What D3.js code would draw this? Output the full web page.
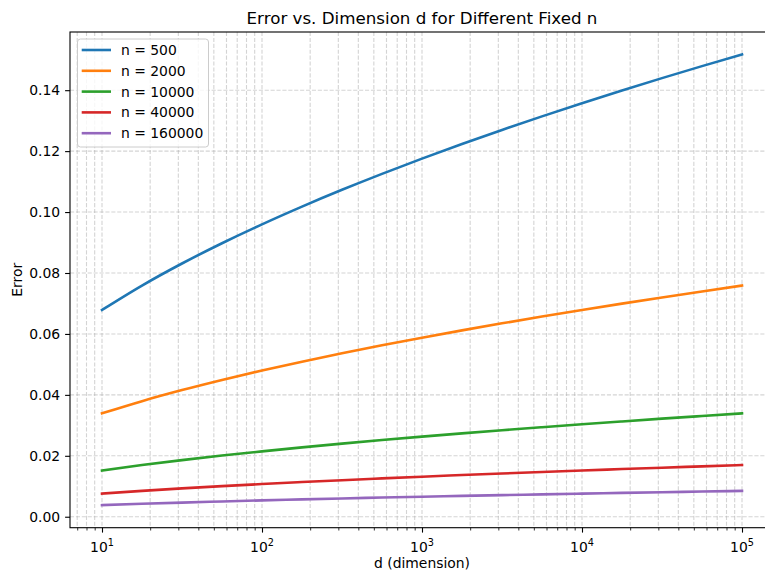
<!DOCTYPE html>
<html><head><meta charset="utf-8">
<script src="https://cdn.jsdelivr.net/npm/d3@7"></script>
<style>body{margin:0;background:#fff}svg{font-family:"DejaVu Sans",sans-serif}</style>
</head><body><svg id="c" width="765" height="576"></svg>
<script>
const dims = [1e1,1.778e1,3.162e1,5.623e1,1e2,1.778e2,3.162e2,5.623e2,1e3,1.778e3,3.162e3,5.623e3,1e4,1.778e4,3.162e4,5.623e4,1e5];
const seriesNames = ["n = 500","n = 2000","n = 10000","n = 40000","n = 160000"];
const colors = ["#1f77b4","#ff7f0e","#2ca02c","#d62728","#9467bd"];
const err500 = [0.06786,0.07587,0.08311,0.08977,0.09597,0.10179,0.10730,0.11254,0.11754,0.12234,0.12696,0.13141,0.13572,0.13990,0.14396,0.14790,0.15174];
const err2000 = [0.03393,0.03794,0.04156,0.04489,0.04799,0.05090,0.05365,0.05627,0.05877,0.06117,0.06348,0.06571,0.06786,0.06995,0.07198,0.07395,0.07587];
const err10000 = [0.015174,0.016965,0.018584,0.020073,0.021460,0.022761,0.023993,0.025165,0.026283,0.027356,0.028389,0.029384,0.030348,0.031283,0.032191,0.033072,0.033930];
const err40000 = [0.007587,0.008483,0.009292,0.010037,0.010730,0.011381,0.011997,0.012583,0.013142,0.013678,0.014195,0.014692,0.015174,0.015642,0.016096,0.016536,0.016965];
const err160000 = [0.003794,0.004242,0.004646,0.005019,0.005365,0.005691,0.005999,0.006292,0.006571,0.006839,0.007098,0.007346,0.007587,0.007821,0.008048,0.008268,0.008483];
const yTicks = [0.00,0.02,0.04,0.06,0.08,0.10,0.12,0.14];
const xMajor = [1,2,3,4,5];
const title = "Error vs. Dimension d for Different Fixed n";
const xLabel = "d (dimension)";
const yLabel = "Error";

const allSeries = [err500, err2000, err10000, err40000, err160000];
const svg = d3.select("#c");
const L = 70, R = 774, T = 32, B = 527.7;
const x = d3.scaleLog().domain([Math.pow(10,0.8), Math.pow(10,5.2)]).range([L, R]);
const y = d3.scaleLinear().domain([-0.0036, 0.1591]).range([B, T]);

const minor = [];
for (let e = 0; e <= 5; e++) for (let m = 2; m <= 9; m++) { const v = m*Math.pow(10,e); if (v > x.domain()[0] && v < x.domain()[1]) minor.push(v); }
const major = xMajor.map(e => Math.pow(10,e));

const grid = svg.append("g");
const gs = {stroke:"#b0b0b0", "stroke-opacity":0.55, "stroke-width":1.1, "stroke-dasharray":"4.1,1.8"};
function applyStyle(sel){ for (const k in gs) sel.attr(k, gs[k]); return sel; }
applyStyle(grid.selectAll(".mn").data(minor).enter().append("line")
  .attr("x1", d=>x(d)).attr("x2", d=>x(d)).attr("y1", T).attr("y2", B));
applyStyle(grid.selectAll(".mj").data(major).enter().append("line")
  .attr("x1", d=>x(d)).attr("x2", d=>x(d)).attr("y1", T).attr("y2", B));
applyStyle(grid.selectAll(".hy").data(yTicks).enter().append("line")
  .attr("x1", L).attr("x2", R).attr("y1", d=>y(d)).attr("y2", d=>y(d)));

const line = d3.line().x((d,i)=>x(dims[i])).y(d=>y(d)).curve(d3.curveMonotoneX);
allSeries.forEach((s, i) => {
  svg.append("path").datum(s).attr("d", line).attr("fill","none")
    .attr("stroke", colors[i]).attr("stroke-width", 2.6).attr("stroke-linecap","square");
});

svg.append("rect").attr("x", L).attr("y", T).attr("width", R-L).attr("height", B-T)
  .attr("fill","none").attr("stroke","#000").attr("stroke-width",1.1);

const xa = svg.append("g").attr("transform", `translate(0,${B})`);
xa.call(d3.axisBottom(x).tickValues(major).tickSize(4.9).tickFormat(""));
xa.select(".domain").remove();
xa.selectAll(".tick line").attr("stroke","#000").attr("stroke-width",1.1);
const xm = svg.append("g").attr("transform", `translate(0,${B})`);
xm.call(d3.axisBottom(x).tickValues(minor).tickSize(2.8).tickFormat(""));
xm.select(".domain").remove();
xm.selectAll(".tick line").attr("stroke","#000").attr("stroke-width",0.8);
xMajor.forEach(e => {
  const t = svg.append("text").attr("x", x(Math.pow(10,e))).attr("y", B+24.5)
    .attr("text-anchor","middle").attr("font-size","13.9px").attr("fill","#000");
  t.append("tspan").text("10");
  t.append("tspan").attr("dy","-6").attr("font-size","9.7px").text(e);
});

const ya = svg.append("g").attr("transform", `translate(${L},0)`);
ya.call(d3.axisLeft(y).tickValues(yTicks).tickSize(4.9).tickPadding(4.9).tickFormat(d3.format(".2f")));
ya.select(".domain").remove();
ya.selectAll(".tick line").attr("stroke","#000").attr("stroke-width",1.1);
ya.selectAll(".tick text").attr("font-size","13.9px").attr("font-family","DejaVu Sans").attr("fill","#000");

svg.append("text").attr("x", (L+R)/2).attr("y", 24).attr("text-anchor","middle")
  .attr("font-size","16.7px").text(title);
svg.append("text").attr("x", (L+R)/2).attr("y", 568).attr("text-anchor","middle")
  .attr("font-size","13.9px").text(xLabel);
svg.append("text").attr("transform", `translate(22,${(T+B)/2}) rotate(-90)`).attr("text-anchor","middle")
  .attr("font-size","13.9px").text(yLabel);

const lg = svg.append("g");
lg.append("rect").attr("x", 77.5).attr("y", 39).attr("width", 131).attr("height", 108).attr("rx", 3)
  .attr("fill","#fff").attr("fill-opacity",0.8).attr("stroke","#ccc").attr("stroke-width",1);
seriesNames.forEach((nm, i) => {
  const yy = 50 + i*20.8;
  lg.append("line").attr("x1", 81.7).attr("x2", 111).attr("y1", yy).attr("y2", yy)
    .attr("stroke", colors[i]).attr("stroke-width", 2.6);
  lg.append("text").attr("x", 121).attr("y", yy+5).attr("font-size","13.9px").text(nm);
});
</script></body></html>
